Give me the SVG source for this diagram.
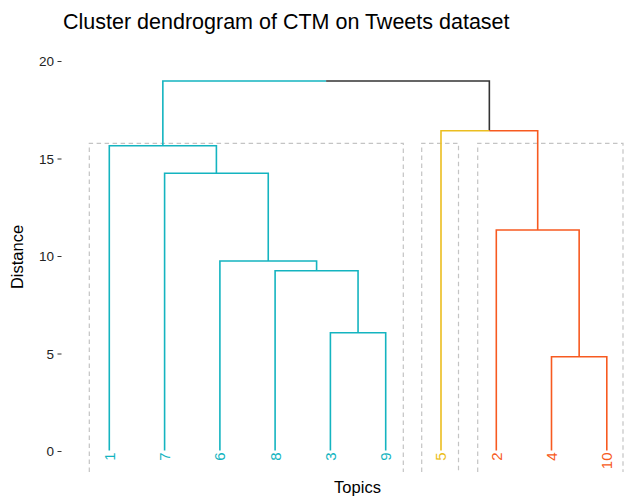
<svg xmlns="http://www.w3.org/2000/svg" width="625" height="499" viewBox="0 0 625 499">
<style>
text{font-family:"Liberation Sans",Arial,sans-serif;}
.title{font-size:21.5px;fill:#000;}
.axt{font-size:16.5px;fill:#000;}
.tick{font-size:13.5px;fill:#222;}
.leaf{font-size:15px;}
.br{fill:none;stroke-width:1.6;stroke-linejoin:miter;stroke-linecap:butt;}
.cy{stroke:#14B4C0;} .ye{stroke:#EBBE20;} .or{stroke:#F75A20;} .bk{stroke:#333;}
.box{fill:none;stroke:#c4c4c4;stroke-width:1.2;stroke-dasharray:4.5 3.5;}
.tk{stroke:#333;stroke-width:1.1;}
</style>
<rect width="625" height="499" fill="#fff"/>
<text class="title" x="63" y="28.5">Cluster dendrogram of CTM on Tweets dataset</text>
<g id="y-axis">
<g class="tick" text-anchor="end">
<text x="54" y="66">20</text>
<text x="54" y="163.5">15</text>
<text x="54" y="261">10</text>
<text x="54" y="358.5">5</text>
<text x="54" y="456">0</text>
</g>
<path class="tk" d="M57.5 61.5H61.5M57.5 159H61.5M57.5 256.5H61.5M57.5 354H61.5M57.5 451.5H61.5"/>
<text class="axt" text-anchor="middle" transform="translate(23 257) rotate(-90)">Distance</text>
</g>
<text class="axt" x="357.5" y="493" text-anchor="middle">Topics</text>
<g id="cluster-boxes">
<path class="box" d="M89.3 472V143.3H403.3V472"/>
<path class="box" d="M421.7 472V143.3H458.5V472"/>
<path class="box" d="M477.7 472V143.3H623V472"/>
</g>
<g id="connectors">
<path class="br cy" d="M330.4 450.5V332.7H385.7V450.5"/>
<path class="br cy" d="M275.1 450.5V270.7H358.05V332.7"/>
<path class="br cy" d="M219.9 450.5V261H316.6V270.7"/>
<path class="br cy" d="M164.6 450.5V173.3H268.25V261"/>
<path class="br cy" d="M109.3 450.5V145.7H216.4V173.3"/>
<path class="br cy" d="M162.85 145.7V81H326.1"/>
<path class="br bk" d="M326.1 81H489.35V130.7"/>
<path class="br ye" d="M441 450.5V130.7H489.35"/>
<path class="br or" d="M489.35 130.7H537.7V230"/>
<path class="br or" d="M496.3 450.5V230H579.15V356.7"/>
<path class="br or" d="M551.5 450.5V356.7H606.8V450.5"/>
</g>
<g id="leaf-1"><text class="leaf" fill="#14B4C0" text-anchor="end" transform="translate(114.7 452.5) rotate(-90)">1</text></g>
<g id="leaf-7"><text class="leaf" fill="#14B4C0" text-anchor="end" transform="translate(170 452.5) rotate(-90)">7</text></g>
<g id="leaf-6"><text class="leaf" fill="#14B4C0" text-anchor="end" transform="translate(225.3 452.5) rotate(-90)">6</text></g>
<g id="leaf-8"><text class="leaf" fill="#14B4C0" text-anchor="end" transform="translate(280.5 452.5) rotate(-90)">8</text></g>
<g id="leaf-3"><text class="leaf" fill="#14B4C0" text-anchor="end" transform="translate(335.8 452.5) rotate(-90)">3</text></g>
<g id="leaf-9"><text class="leaf" fill="#14B4C0" text-anchor="end" transform="translate(391.1 452.5) rotate(-90)">9</text></g>
<g id="leaf-5"><text class="leaf" fill="#EBBE20" text-anchor="end" transform="translate(446.4 452.5) rotate(-90)">5</text></g>
<g id="leaf-2"><text class="leaf" fill="#F75A20" text-anchor="end" transform="translate(501.7 452.5) rotate(-90)">2</text></g>
<g id="leaf-4"><text class="leaf" fill="#F75A20" text-anchor="end" transform="translate(556.9 452.5) rotate(-90)">4</text></g>
<g id="leaf-10"><text class="leaf" fill="#F75A20" text-anchor="end" transform="translate(612.2 452.5) rotate(-90)">10</text></g>
</svg>
